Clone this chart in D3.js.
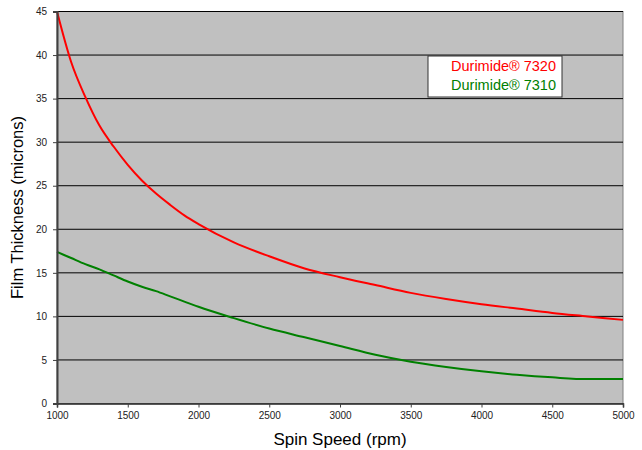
<!DOCTYPE html>
<html>
<head>
<meta charset="utf-8">
<script src="https://cdn.jsdelivr.net/npm/d3@7"></script>
<style>
  body { margin: 0; background: #fff; }
  svg { display: block; font-family: "Liberation Sans", Arial, sans-serif; }
</style>
</head>
<body>
<div id="chart"></div>
<script>
// spin speed (rpm) and film thickness (microns)
var speeds = [1000, 1100, 1200, 1300, 1400, 1500, 1600, 1700, 1800, 1900, 2000, 2250, 2500, 2750, 3000, 3250, 3500, 3750, 4000, 4250, 4500, 4750, 5000];
var thick7320 = [45.0, 39.2, 35.2, 31.9, 29.5, 27.4, 25.6, 24.1, 22.8, 21.6, 20.6, 18.5, 16.9, 15.5, 14.5, 13.6, 12.7, 12.0, 11.4, 10.9, 10.4, 10.0, 9.6];
var thick7310 = [17.4, 16.7, 16.0, 15.4, 14.7, 14.0, 13.4, 12.9, 12.3, 11.7, 11.1, 9.8, 8.6, 7.6, 6.6, 5.6, 4.8, 4.2, 3.7, 3.3, 3.0, 2.8, 2.8];
var seriesNames = ["Durimide\u00ae 7320", "Durimide\u00ae 7310"];
var seriesColors = ["#ff0000", "#008000"];
var xTicks = [1000, 1500, 2000, 2500, 3000, 3500, 4000, 4500, 5000];
var yTicks = [0, 5, 10, 15, 20, 25, 30, 35, 40, 45];

var width = 642,
   height = 450,
   margin = {top: 11.5, right: 19, bottom: 46.5, left: 57};
var w = width - margin.left - margin.right,
   h = height - margin.top - margin.bottom;

var svg = d3.select("#chart").append("svg")
   .attr("width", width)
   .attr("height", height);

var x = d3.scaleLinear().domain([1000, 5000]).range([0, w]);
var y = d3.scaleLinear().domain([0, 45]).range([h, 0]);

var g = svg.append("g")
   .attr("transform", "translate(" + margin.left + "," + margin.top + ")");

// plot background
g.append("rect")
   .attr("width", w)
   .attr("height", h)
   .attr("fill", "#c0c0c0")
   .attr("stroke", "#808080")
   .attr("stroke-width", 1);

// horizontal gridlines
g.selectAll("line.grid")
   .data(yTicks.filter(function(d) { return d > 0; }))
   .enter().append("line")
   .attr("class", "grid")
   .attr("x1", 0)
   .attr("x2", w)
   .attr("y1", function(d) { return y(d); })
   .attr("y2", function(d) { return y(d); })
   .attr("stroke", "#000")
   .attr("stroke-width", 1);

// curves
var line = d3.line()
   .x(function(d) { return x(d[0]); })
   .y(function(d) { return y(d[1]); })
   .curve(d3.curveMonotoneX);

[thick7320, thick7310].forEach(function(vals, i) {
   g.append("path")
      .datum(speeds.map(function(s, j) { return [s, vals[j]]; }))
      .attr("fill", "none")
      .attr("stroke", seriesColors[i])
      .attr("stroke-width", 2)
      .attr("d", line);
});

// axes
var xAxis = g.append("g")
   .attr("transform", "translate(0," + h + ")")
   .call(d3.axisBottom(x).tickValues(xTicks).tickFormat(d3.format("d")).tickSize(4).tickPadding(4));
var yAxis = g.append("g")
   .call(d3.axisLeft(y).tickValues(yTicks).tickSize(4).tickPadding(6));

xAxis.select(".domain").attr("stroke", "#222").attr("stroke-width", 1.5);
yAxis.select(".domain").attr("stroke", "#404040").attr("stroke-width", 2);
svg.selectAll(".tick line").attr("stroke", "#404040");
svg.selectAll(".tick text")
   .attr("font-family", "Liberation Sans, Arial, sans-serif")
   .attr("font-size", 10)
   .attr("fill", "#222");

// axis titles
svg.append("text")
   .attr("x", margin.left + w / 2)
   .attr("y", 445)
   .attr("text-anchor", "middle")
   .attr("font-size", 17)
   .attr("fill", "#000")
   .text("Spin Speed (rpm)");

// the y title is cut off at the top in the original, so clip it the same way
svg.append("clipPath")
   .attr("id", "ytitle-clip")
   .append("rect")
   .attr("x", 0).attr("y", 116).attr("width", 40).attr("height", 300);

svg.append("g")
   .attr("clip-path", "url(#ytitle-clip)")
   .append("text")
   .attr("transform", "translate(23," + (margin.top + h / 2) + ") rotate(-90)")
   .attr("text-anchor", "middle")
   .attr("font-size", 16.5)
   .attr("fill", "#000")
   .text("Film Thickness (microns)");

// legend
var legend = svg.append("g").attr("transform", "translate(428,56)");
legend.append("rect")
   .attr("width", 134)
   .attr("height", 41)
   .attr("fill", "#fff")
   .attr("stroke", "#333")
   .attr("stroke-width", 1);
legend.selectAll("text")
   .data(seriesNames)
   .enter().append("text")
   .attr("x", 128)
   .attr("y", function(d, i) { return 15 + i * 19.3; })
   .attr("text-anchor", "end")
   .attr("font-size", 14.5)
   .attr("fill", function(d, i) { return seriesColors[i]; })
   .text(function(d) { return d; });
</script>
</body>
</html>
